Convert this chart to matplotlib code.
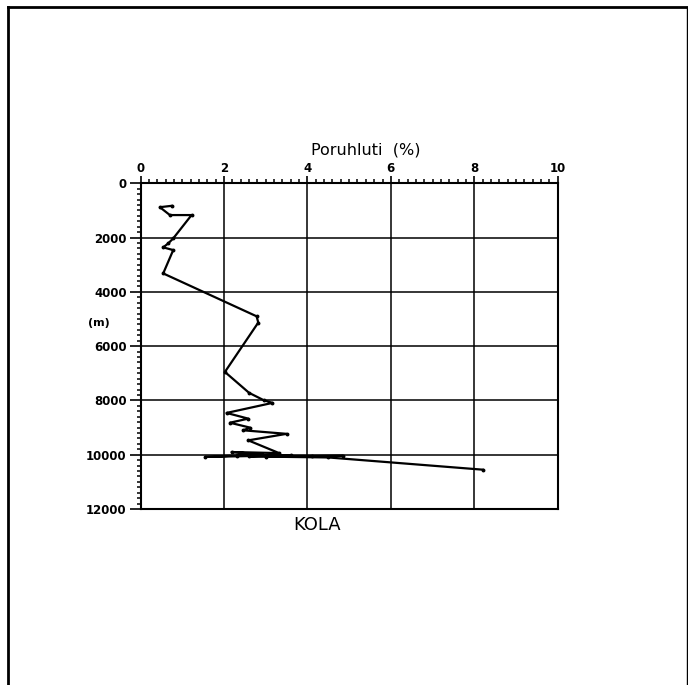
import matplotlib.pyplot as plt
from matplotlib.ticker import MultipleLocator
from matplotlib.lines import Line2D

# porosity (%) versus depth (m), Kola superdeep borehole
porosity = [0.74, 0.46, 0.70, 1.22, 0.78, 0.66, 0.54, 0.78, 0.54, 2.78, 2.82,
            2.02, 2.60, 2.95, 3.16, 2.06, 2.58, 2.14, 2.62, 2.46, 3.50, 2.58,
            3.32, 2.18, 2.90, 1.55, 3.60, 2.30, 4.10, 2.60, 4.85, 3.00, 4.50,
            8.20]
depth = [830, 880, 1170, 1170, 2030, 2215, 2360, 2460, 3320, 4900, 5130,
         6950, 7720, 7990, 8090, 8460, 8670, 8820, 9000, 9100, 9230, 9470,
         9940, 9900, 9990, 10080, 10020, 10040, 10050, 10060, 10040, 10070,
         10100, 10550]

x_ticks = [0, 2, 4, 6, 8, 10]
y_ticks = [0, 2000, 4000, 6000, 8000, 10000, 12000]

fig = plt.figure(figsize=(6.88, 6.85), dpi=100)
ax = fig.add_axes([0.2045, 0.2569, 0.606, 0.4755])

ax.plot(porosity, depth, color='black', lw=1.6, marker='o', ms=1.8)

ax.set_xlim(0, 10)
ax.set_ylim(12000, 0)
ax.set_xticks(x_ticks)
ax.set_yticks(y_ticks)
ax.xaxis.set_minor_locator(MultipleLocator(0.2))
ax.yaxis.set_minor_locator(MultipleLocator(200))
ax.xaxis.tick_top()
ax.tick_params(which='major', direction='out', length=5, width=1.2,
               labelsize=8.5, pad=1)
ax.tick_params(which='minor', direction='out', length=3, width=1.1)
ax.tick_params(axis='y', which='major', length=8, pad=2)
for lab in ax.get_xticklabels() + ax.get_yticklabels():
    lab.set_fontweight('bold')

ax.grid(True, which='major', color='black', lw=1.1)
for sp in ax.spines.values():
    sp.set_linewidth(1.5)

fig.text(0.532, 0.781, 'Poruhluti  (%)', ha='center', va='center',
         fontsize=11.5)
fig.text(0.461, 0.234, 'KOLA', ha='center', va='center', fontsize=13)
fig.text(0.143, 0.528, '(m)', ha='center', va='center', fontsize=8,
         fontweight='bold')

# outer frame of the page
fig.add_artist(Line2D([0.012, 0.012], [0.0, 0.99], color='black', lw=2,
                      transform=fig.transFigure))
fig.add_artist(Line2D([0.011, 0.999], [0.99, 0.99], color='black', lw=2,
                      transform=fig.transFigure))
fig.add_artist(Line2D([0.9985, 0.9985], [0.0, 0.99], color='black', lw=1,
                      transform=fig.transFigure))

fig.savefig('out.png', dpi=100)
